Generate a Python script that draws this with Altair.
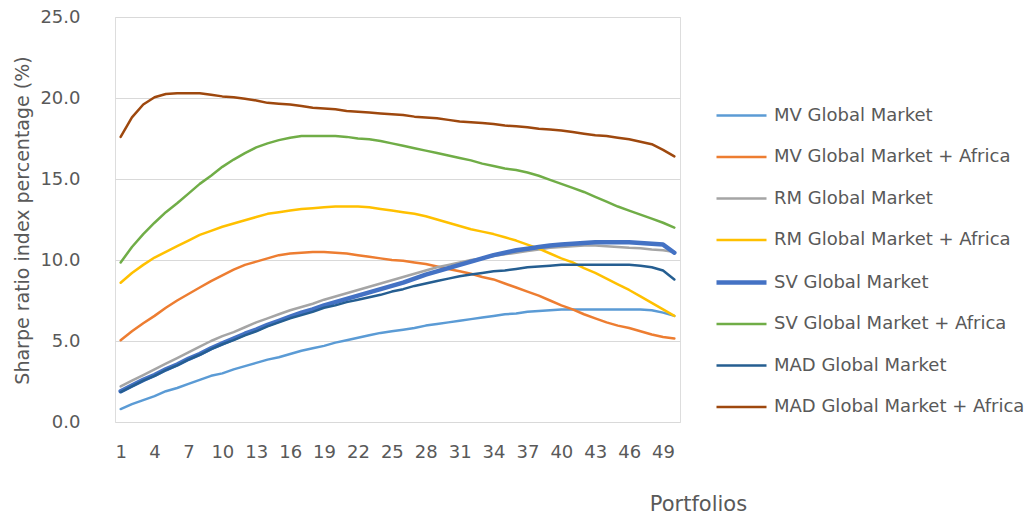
import altair as alt
import pandas as pd

# Portfolio index along the efficient frontier
portfolios = list(range(1, 51))

series_names = [
    "MV Global Market",
    "MV Global Market + Africa",
    "RM Global Market",
    "RM Global Market + Africa",
    "SV Global Market",
    "SV Global Market + Africa",
    "MAD Global Market",
    "MAD Global Market + Africa",
]

mv_global = [
    0.8, 1.1, 1.35, 1.6, 1.9, 2.1, 2.35, 2.6, 2.85, 3.0,
    3.25, 3.45, 3.65, 3.85, 4.0, 4.2, 4.4, 4.55, 4.7, 4.9,
    5.05, 5.2, 5.35, 5.5, 5.6, 5.7, 5.8, 5.95, 6.05, 6.15,
    6.25, 6.35, 6.45, 6.55, 6.65, 6.7, 6.8, 6.85, 6.9, 6.95,
    6.95, 6.95, 6.95, 6.95, 6.95, 6.95, 6.95, 6.9, 6.75, 6.55,
]
mv_africa = [
    5.05, 5.6, 6.1, 6.55, 7.05, 7.5, 7.9, 8.3, 8.7, 9.05,
    9.4, 9.7, 9.9, 10.1, 10.3, 10.4, 10.45, 10.5, 10.5, 10.45,
    10.4, 10.3, 10.2, 10.1, 10.0, 9.95, 9.85, 9.75, 9.6, 9.45,
    9.3, 9.15, 8.95, 8.8, 8.55, 8.3, 8.05, 7.8, 7.5, 7.2,
    6.95, 6.65, 6.4, 6.15, 5.95, 5.8, 5.6, 5.4, 5.25, 5.15,
]
rm_global = [
    2.2, 2.55, 2.9, 3.25, 3.6, 3.95, 4.3, 4.65, 5.0, 5.3,
    5.55, 5.85, 6.15, 6.4, 6.65, 6.9, 7.1, 7.3, 7.55, 7.75,
    7.95, 8.15, 8.35, 8.55, 8.75, 8.95, 9.15, 9.35, 9.55, 9.7,
    9.85, 10.0, 10.1, 10.25, 10.35, 10.45, 10.55, 10.65, 10.75, 10.8,
    10.85, 10.9, 10.9, 10.85, 10.8, 10.75, 10.72, 10.65, 10.6, 10.5,
]
rm_africa = [
    8.6, 9.2, 9.7, 10.15, 10.5, 10.85, 11.2, 11.55, 11.8, 12.05,
    12.25, 12.45, 12.65, 12.85, 12.95, 13.05, 13.15, 13.2, 13.25, 13.3,
    13.3, 13.3, 13.25, 13.15, 13.05, 12.95, 12.85, 12.7, 12.5, 12.3,
    12.1, 11.9, 11.75, 11.6, 11.4, 11.2, 10.95, 10.7, 10.4, 10.1,
    9.85, 9.5, 9.2, 8.85, 8.5, 8.15, 7.75, 7.35, 6.95, 6.55,
]
sv_global = [
    1.9, 2.25, 2.6, 2.9, 3.25, 3.55, 3.9, 4.2, 4.55, 4.85,
    5.15, 5.45, 5.7, 6.0, 6.25, 6.5, 6.75, 6.95, 7.2, 7.4,
    7.6, 7.8, 8.0, 8.2, 8.4, 8.6, 8.85, 9.1, 9.3, 9.5,
    9.7, 9.9, 10.1, 10.3, 10.45, 10.6, 10.7, 10.8, 10.9, 10.95,
    11.0, 11.05, 11.1, 11.1, 11.1, 11.1, 11.05, 11.0, 10.95, 10.45,
]
sv_africa = [
    9.85, 10.8, 11.6, 12.3, 12.95, 13.5, 14.1, 14.7, 15.2, 15.75,
    16.2, 16.6, 16.95, 17.2, 17.4, 17.55, 17.65, 17.65, 17.65, 17.65,
    17.6, 17.5, 17.45, 17.35, 17.2, 17.05, 16.9, 16.75, 16.6, 16.45,
    16.3, 16.15, 15.95, 15.8, 15.65, 15.55, 15.4, 15.2, 14.95, 14.7,
    14.45, 14.2, 13.9, 13.6, 13.3, 13.05, 12.8, 12.55, 12.3, 12.0,
]
mad_global = [
    1.85, 2.2, 2.55, 2.85, 3.2, 3.5, 3.85, 4.15, 4.5, 4.8,
    5.05, 5.35, 5.6, 5.9, 6.15, 6.4, 6.6, 6.8, 7.05, 7.2,
    7.4, 7.55, 7.7, 7.85, 8.05, 8.2, 8.4, 8.55, 8.7, 8.85,
    9.0, 9.1, 9.2, 9.3, 9.35, 9.45, 9.55, 9.6, 9.65, 9.7,
    9.7, 9.7, 9.7, 9.7, 9.7, 9.7, 9.65, 9.55, 9.35, 8.8,
]
mad_africa = [
    17.6, 18.8, 19.6, 20.05, 20.25, 20.3, 20.3, 20.3, 20.2, 20.1,
    20.05, 19.95, 19.85, 19.7, 19.65, 19.6, 19.5, 19.4, 19.35, 19.3,
    19.2, 19.15, 19.1, 19.05, 19.0, 18.95, 18.85, 18.8, 18.75, 18.65,
    18.55, 18.5, 18.45, 18.4, 18.3, 18.25, 18.2, 18.1, 18.05, 18.0,
    17.9, 17.8, 17.7, 17.65, 17.55, 17.45, 17.3, 17.15, 16.8, 16.4,
]

series_values = [
    mv_global, mv_africa, rm_global, rm_africa,
    sv_global, sv_africa, mad_global, mad_africa,
]

colors = ["#5B9BD5", "#ED7D31", "#A5A5A5", "#FFC000",
          "#4472C4", "#70AD47", "#255E91", "#9E480E"]
widths = [2.5, 2.5, 2.5, 2.5, 4.5, 2.5, 2.5, 2.5]

x_ticks = list(range(1, 50, 3))
y_ticks = [0, 5, 10, 15, 20, 25]

rows = []
for name, vals in zip(series_names, series_values):
    for p, v in zip(portfolios, vals):
        rows.append({"Portfolio": p, "Sharpe": v, "Series": name})
df = pd.DataFrame(rows)

FONT = "DejaVu Sans"
TEXT = "#595959"

legend_opts = dict(
    title=None, orient="none", legendX=599, legendY=72,
    symbolType="stroke", symbolSize=2500, labelFontSize=18,
    labelColor=TEXT, labelFont=FONT, labelOffset=5, rowPadding=5.5,
    labelLimit=400,
)

chart = alt.Chart(df).mark_line(strokeJoin="round", strokeCap="round").encode(
    x=alt.X(
        "Portfolio:Q",
        scale=alt.Scale(domain=[0.5, 50.5], nice=False, zero=False),
        axis=alt.Axis(
            values=x_ticks, title="Portfolios", grid=False, domain=False,
            ticks=False, labelPadding=21, labelFontSize=18, labelColor=TEXT,
            labelFont=FONT, titleFont=FONT, titleFontSize=21,
            titleFontWeight="normal", titleColor=TEXT, titleX=583, titleY=82,
            titleAlign="center", titleBaseline="middle", labelFlush=False,
        ),
    ),
    y=alt.Y(
        "Sharpe:Q",
        scale=alt.Scale(domain=[0, 25], nice=False),
        axis=alt.Axis(
            values=y_ticks, format=".1f", title="Sharpe ratio index percentage (%)",
            grid=True, gridColor="#D9D9D9", gridWidth=1, domain=False,
            ticks=False, labelPadding=35, labelFontSize=18, labelColor=TEXT,
            labelFont=FONT, titleFont=FONT, titleFontSize=19,
            titleFontWeight="normal", titleColor=TEXT, titleX=-93, titleY=203,
            titleAlign="center", titleBaseline="middle", titleAngle=270,
        ),
    ),
    color=alt.Color(
        "Series:N",
        scale=alt.Scale(domain=series_names, range=colors),
        sort=series_names,
        legend=alt.Legend(**legend_opts),
    ),
    strokeWidth=alt.StrokeWidth(
        "Series:N",
        scale=alt.Scale(type="ordinal", domain=series_names, range=widths),
        sort=series_names,
        legend=alt.Legend(**legend_opts),
    ),
).properties(
    width=565,
    height=405,
    autosize=alt.AutoSizeParams(type="none"),
    padding={"left": 115, "top": 17, "right": 349, "bottom": 96},
).configure_view(
    stroke=None,
).configure(
    background="white",
)

chart.save("out.html", embed_options={"renderer": "svg", "actions": False})
